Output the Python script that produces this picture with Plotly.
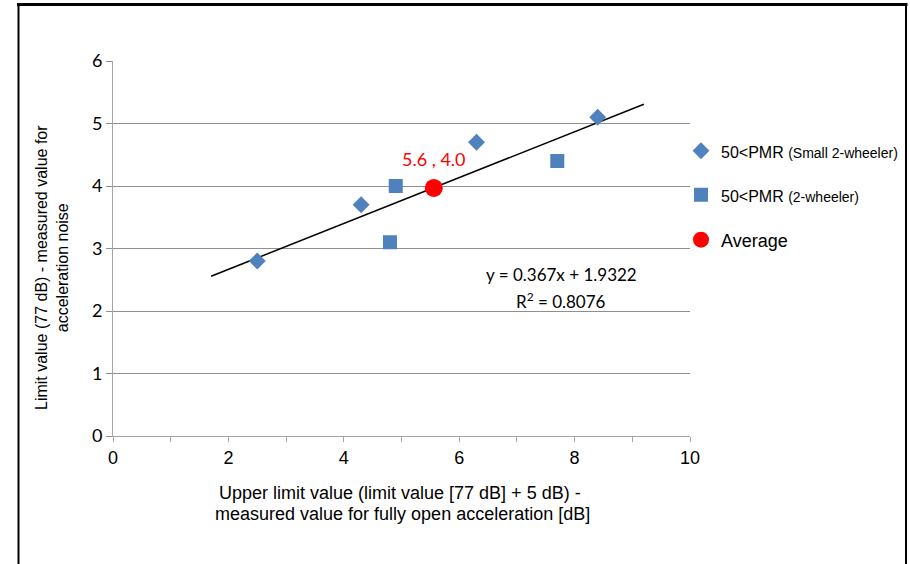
import plotly.graph_objects as go

# ---- data ----
small_x = [2.5, 4.3, 6.3, 8.4]          # 50<PMR (Small 2-wheeler)
small_y = [2.8, 3.7, 4.7, 5.1]
big_x = [4.8, 4.9, 7.7]                  # 50<PMR (2-wheeler)
big_y = [3.1, 4.0, 4.4]
avg_x = [5.56]                           # Average
avg_y = [3.97]
avg_label = "5.6 , 4.0"
trend_slope = 0.367
trend_intercept = 1.9322
trend_r2 = 0.8076
trend_x = [1.7, 9.2]
trend_y = [trend_slope * v + trend_intercept for v in trend_x]
x_tick_vals = [0, 2, 4, 6, 8, 10]
y_tick_vals = [0, 1, 2, 3, 4, 5, 6]

BLUE = "#4F81BD"
RED = "#FF0000"
GRID = "#8F8F8F"
AXIS = "#A6A6A6"
ARIAL = "Liberation Sans, Arial, sans-serif"
CAL = "Lato, Carlito, Calibri, sans-serif"

def pmr_name(suffix):
    return ("<span style='font-family:Liberation Sans, Arial, sans-serif;font-size:16px'>50&lt;PMR </span>"
            f"<span style='font-family:Liberation Sans, Arial, sans-serif;font-size:14px'>{suffix}</span>")

fig = go.Figure()

fig.add_trace(go.Scatter(
    x=trend_x, y=trend_y, mode="lines",
    line=dict(color="black", width=1.5), showlegend=False, hoverinfo="skip"))

fig.add_trace(go.Scatter(
    x=small_x, y=small_y, mode="markers", name=pmr_name("(Small 2-wheeler)"),
    marker=dict(symbol="diamond", size=13, color=BLUE), legend="legend"))

fig.add_trace(go.Scatter(
    x=big_x, y=big_y, mode="markers", name=pmr_name("(2-wheeler)"),
    marker=dict(symbol="square", size=14, color=BLUE), legend="legend2"))

fig.add_trace(go.Scatter(
    x=avg_x, y=avg_y, mode="markers", name="Average",
    marker=dict(symbol="circle", size=18, color=RED), legend="legend3"))

# plot area in page pixels: x 113..690, y 61..436 (body margin removed via post_script)
W, H = 910, 564
PX0, PX1, PY0, PY1 = 113, 690, 61, 436
L, T = PX0, PY0
R, B = W - PX1, H - PY1
pw, ph = PX1 - PX0, PY1 - PY0

def px_x(p):
    return (p - PX0) / pw

def px_y(p):
    return (PY1 - p) / ph

leg_common = dict(xanchor="left", yanchor="middle", bgcolor="rgba(0,0,0,0)",
                  font=dict(family=ARIAL, size=18, color="black"),
                  itemwidth=30, tracegroupgap=0)

annotations = [
    dict(x=avg_x[0], y=avg_y[0], xref="x", yref="y", text=avg_label, showarrow=False,
         yshift=29, font=dict(family=CAL, size=18, color=RED)),
    dict(x=px_x(561), y=px_y(274), xref="paper", yref="paper", xanchor="center", yanchor="middle",
         text=f"y = {trend_slope}x + {trend_intercept}", showarrow=False,
         font=dict(family=CAL, size=17, color="black")),
    dict(x=px_x(561), y=px_y(300), xref="paper", yref="paper", xanchor="center", yanchor="middle",
         text=f"R<sup>2</sup> = {trend_r2}", showarrow=False,
         font=dict(family=CAL, size=17, color="black")),
    dict(x=px_x(400), y=px_y(492.5), xref="paper", yref="paper", xanchor="center", yanchor="middle",
         text="Upper limit value (limit value [77 dB] + 5 dB) -",
         showarrow=False, font=dict(family=ARIAL, size=18, color="black")),
    dict(x=px_x(402), y=px_y(514), xref="paper", yref="paper", xanchor="center", yanchor="middle",
         text="measured value for fully open acceleration [dB]",
         showarrow=False, font=dict(family=ARIAL, size=18, color="black")),
    dict(x=px_x(52), y=px_y(268), xref="paper", yref="paper", xanchor="center", yanchor="middle",
         textangle=-90,
         text="Limit value (77 dB) - measured value for<br>acceleration noise",
         showarrow=False, align="center",
         font=dict(family=ARIAL, size=16, color="black")),
]

shapes = [
    dict(type="line", xref="paper", yref="paper", x0=px_x(17), x1=px_x(907.5),
         y0=px_y(4.5), y1=px_y(4.5), line=dict(color="black", width=3)),
    dict(type="line", xref="paper", yref="paper", x0=px_x(18.5), x1=px_x(18.5),
         y0=px_y(4), y1=px_y(600), line=dict(color="black", width=2)),
    dict(type="line", xref="paper", yref="paper", x0=px_x(906), x1=px_x(906),
         y0=px_y(4), y1=px_y(600), line=dict(color="black", width=2)),
]

fig.update_layout(
    width=W, height=H,
    margin=dict(l=L, r=R, t=T, b=B, pad=0, autoexpand=False),
    paper_bgcolor="white", plot_bgcolor="white",
    showlegend=True,
    legend=dict(x=px_x(681), y=px_y(151), **leg_common),
    legend2=dict(x=px_x(681), y=px_y(195), **leg_common),
    legend3=dict(x=px_x(681), y=px_y(240), **leg_common),
    annotations=annotations,
    shapes=shapes,
    xaxis=dict(range=[0, 10], tickvals=x_tick_vals, showgrid=False, zeroline=False,
               showline=True, linecolor=AXIS, linewidth=1,
               ticks="outside", ticklen=5, tickcolor=AXIS,
               minor=dict(dtick=1, ticks="outside", ticklen=5, tickcolor=AXIS, showgrid=False),
               tickfont=dict(family=ARIAL, size=18, color="black"), fixedrange=True),
    yaxis=dict(range=[0, 6], tickvals=y_tick_vals, showgrid=True, gridcolor=GRID, gridwidth=1,
               zeroline=False, showline=True, linecolor=AXIS, linewidth=1,
               ticks="outside", ticklen=6, tickcolor=GRID,
               tickfont=dict(family=CAL, size=18, color="black"), fixedrange=True),
)

fig.write_html("out.html",
               config={"displayModeBar": False},
               post_script="document.body.style.margin='0';document.body.style.overflow='hidden';")
